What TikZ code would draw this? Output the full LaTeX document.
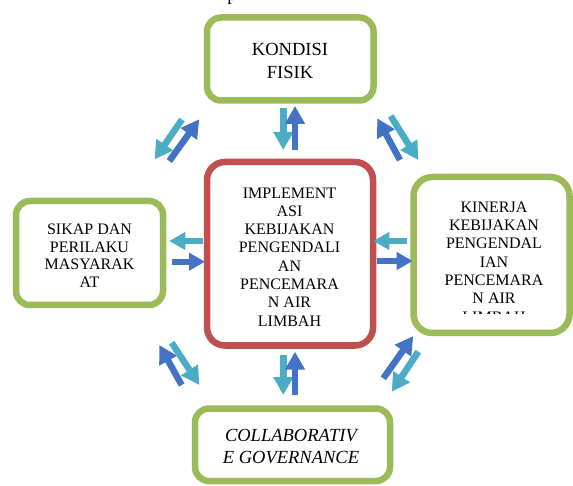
\documentclass[tikz,border=0pt]{standalone}
\usepackage{fontspec}
\setmainfont{Liberation Serif}
\usetikzlibrary{arrows.meta}
\definecolor{boxgreen}{HTML}{9BBB59}
\definecolor{boxred}{HTML}{C0504D}
\definecolor{arrcyan}{HTML}{4BACC6}
\definecolor{arrblue}{HTML}{4472C4}
\begin{document}
\begin{tikzpicture}[x=1pt,y=-1pt,
  framebox/.style={draw, line width=6.5pt, inner sep=0pt, fill=white},
  greenbox/.style={framebox, draw=boxgreen},
  redbox/.style={framebox, draw=boxred},
  bigtext/.style={font=\fontsize{18.5}{23}\selectfont, align=center, inner sep=0pt},
  smalltext/.style={font=\fontsize{16}{18.3}\selectfont, align=center, inner sep=0pt},
  blockarrow/.style={line width=6.5pt, -{Triangle[width=19pt,length=18pt]}},
  harrow/.style={line width=6pt, -{Triangle[width=17pt,length=16pt]}},
  cyanarrow/.style={blockarrow, draw=arrcyan},
  bluearrow/.style={blockarrow, draw=arrblue},
  hcyan/.style={harrow, draw=arrcyan},
  hblue/.style={harrow, draw=arrblue}
]
\useasboundingbox (0,0) rectangle (573,486);
\fill[white] (0,0) rectangle (573,486);

% fragment of a caption line cut off by the top edge
\begin{scope}
  \clip (0,0) rectangle (573,486);
  \node[anchor=base, font=\fontsize{18.5}{22}\selectfont, inner sep=0pt] (ptext) at (232,0.5) {p};
\end{scope}

% boxes
\node[greenbox, rounded corners=14pt, minimum width=166.5pt, minimum height=83pt] (top) at (290.25,59) {};
\node[redbox, rounded corners=18pt, minimum width=166pt, minimum height=183.5pt] (mid) at (290,253.75) {};
\node[greenbox, rounded corners=14pt, minimum width=147pt, minimum height=104pt] (left) at (89.5,253) {};
\node[greenbox, rounded corners=19pt, minimum width=156pt, minimum height=156pt] (right) at (491.5,255) {};
\node[greenbox, rounded corners=14pt, minimum width=195pt, minimum height=72.5pt] (bottom) at (292.5,444.75) {};

% texts
\node[bigtext] (toptext) at (290,60.9) {KONDISI\\FISIK};
\node[smalltext] (midtext) at (289.5,256.9) {IMPLEMENT\\ASI\\KEBIJAKAN\\PENGENDALI\\AN\\PENCEMARA\\N AIR\\LIMBAH};
\node[smalltext, font=\fontsize{16}{17.5}\selectfont] (lefttext) at (89.5,255.9) {SIKAP DAN\\PERILAKU\\MASYARAK\\AT};
\begin{scope}
  \clip (415,180) rectangle (568,314);
  \node[smalltext] (righttext) at (494,261.9) {KINERJA\\KEBIJAKAN\\PENGENDAL\\IAN\\PENCEMARA\\N AIR\\LIMBAH};
\end{scope}
\node[bigtext, font=\fontsize{18.5}{22.3}\selectfont\itshape] (bottomtext) at (291,446.75) {COLLABORATIV\\E GOVERNANCE};

% arrow end points
\coordinate (tcs) at (283.3,108.3); \coordinate (tce) at (283.3,150);
\coordinate (tbs) at (295,150);     \coordinate (tbe) at (295,106);
\coordinate (bcs) at (283.3,355);   \coordinate (bce) at (283.3,395);
\coordinate (bbs) at (295,395);     \coordinate (bbe) at (295,351.7);
\coordinate (lcs) at (203.3,241);   \coordinate (lce) at (169.3,241);
\coordinate (lbs) at (171.7,261.7); \coordinate (lbe) at (205,261.7);
\coordinate (rcs) at (406.7,241);   \coordinate (rce) at (373.3,241);
\coordinate (rbs) at (376.7,261);   \coordinate (rbe) at (412.7,261);
\coordinate (ulcs) at (182,119.5);  \coordinate (ulce) at (154.5,159.5);
\coordinate (ulbs) at (169.3,161);  \coordinate (ulbe) at (199.3,119.3);
\coordinate (urbs) at (400,160);    \coordinate (urbe) at (377.3,118.3);
\coordinate (urcs) at (390.7,116);  \coordinate (urce) at (418.3,160);
\coordinate (llbs) at (181.7,385);  \coordinate (llbe) at (159.3,345);
\coordinate (llcs) at (171.7,342.7);\coordinate (llce) at (199.3,385);
\coordinate (lrbs) at (383.3,378.3);\coordinate (lrbe) at (413.3,336);
\coordinate (lrcs) at (418.3,351.7);\coordinate (lrce) at (391.7,391.7);

% arrows
\draw[cyanarrow] (tcs) -- (tce);
\draw[bluearrow] (tbs) -- (tbe);
\draw[cyanarrow] (bcs) -- (bce);
\draw[bluearrow] (bbs) -- (bbe);
\draw[hcyan] (lcs) -- (lce);
\draw[hblue] (lbs) -- (lbe);
\draw[hcyan] (rcs) -- (rce);
\draw[hblue] (rbs) -- (rbe);
\draw[cyanarrow] (ulcs) -- (ulce);
\draw[bluearrow] (ulbs) -- (ulbe);
\draw[bluearrow] (urbs) -- (urbe);
\draw[cyanarrow] (urcs) -- (urce);
\draw[bluearrow] (llbs) -- (llbe);
\draw[cyanarrow] (llcs) -- (llce);
\draw[bluearrow] (lrbs) -- (lrbe);
\draw[cyanarrow] (lrcs) -- (lrce);
\end{tikzpicture}
\end{document}
